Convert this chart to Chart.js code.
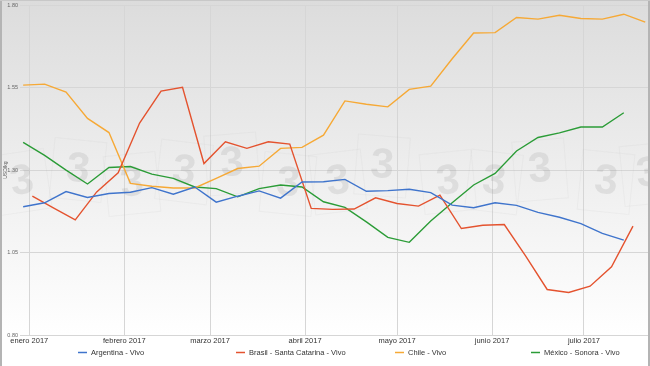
<!DOCTYPE html>
<html>
<head>
<meta charset="utf-8">
<script src="https://cdn.jsdelivr.net/npm/chart.js"></script>
<style>
html,body{margin:0;padding:0;background:#fff;}
#wrap{width:650px;height:366px;position:relative;}
</style>
</head>
<body>
<div id="wrap"><canvas id="c" width="650" height="366"></canvas></div>
<script>
// ---- data ----
const monthStarts = ["2017-01-01","2017-02-01","2017-03-01","2017-04-01","2017-05-01","2017-06-01","2017-07-01"];
const monthLabels = ["enero 2017","febrero 2017","marzo 2017","abril 2017","mayo 2017","junio 2017","julio 2017"];

const weeksMain = ["2016-12-30","2017-01-06","2017-01-13","2017-01-20","2017-01-27","2017-02-03","2017-02-10","2017-02-17","2017-02-24","2017-03-03","2017-03-10","2017-03-17","2017-03-24","2017-03-31","2017-04-07","2017-04-14","2017-04-21","2017-04-28","2017-05-05","2017-05-12","2017-05-19","2017-05-26","2017-06-02","2017-06-09","2017-06-16","2017-06-23","2017-06-30","2017-07-07","2017-07-14","2017-07-21"];
const weeksBrasil = ["2017-01-02","2017-01-09","2017-01-16","2017-01-23","2017-01-30","2017-02-06","2017-02-13","2017-02-20","2017-02-27","2017-03-06","2017-03-13","2017-03-20","2017-03-27","2017-04-03","2017-04-10","2017-04-17","2017-04-24","2017-05-01","2017-05-08","2017-05-15","2017-05-22","2017-05-29","2017-06-05","2017-06-12","2017-06-19","2017-06-26","2017-07-03","2017-07-10","2017-07-17"];

const argentina = [1.189,1.201,1.235,1.217,1.229,1.233,1.247,1.227,1.249,1.203,1.221,1.237,1.215,1.264,1.265,1.272,1.236,1.238,1.242,1.232,1.194,1.186,1.201,1.193,1.172,1.157,1.138,1.108,1.088];
const brasil = [1.221,1.185,1.149,1.234,1.292,1.443,1.540,1.551,1.320,1.386,1.366,1.386,1.379,1.184,1.181,1.182,1.216,1.199,1.191,1.224,1.123,1.133,1.135,1.039,0.938,0.929,0.948,1.007,1.130];
const chile = [1.558,1.561,1.537,1.457,1.414,1.260,1.251,1.246,1.246,1.275,1.305,1.312,1.366,1.369,1.406,1.510,1.500,1.492,1.545,1.555,1.638,1.716,1.717,1.763,1.758,1.770,1.760,1.758,1.773,1.749];
const mexico = [1.384,1.345,1.300,1.258,1.308,1.311,1.288,1.275,1.249,1.244,1.219,1.244,1.255,1.249,1.204,1.187,1.143,1.096,1.081,1.146,1.201,1.255,1.290,1.358,1.399,1.413,1.431,1.431,1.474];

const seriesNames = ["Argentina - Vivo","Brasil - Santa Catarina - Vivo","Chile - Vivo","México - Sonora - Vivo"];
const seriesColors = ["#3f74cc","#e4532f","#f6a936","#2b9c37"];
const yTitle = "USD/kg";
const watermarkText = "3";

// ---- helpers ----
const BASE = Date.UTC(2017,0,1);
function dayOf(s){const p=s.split("-").map(Number);return (Date.UTC(p[0],p[1]-1,p[2])-BASE)/86400000;}
function xy(dates, vals){return vals.map((v,i)=>({x:dayOf(dates[i]),y:v}));}
const monthDays = monthStarts.map(dayOf);

const bgPlugin = {
  id:'bg',
  beforeDraw(chart){
    const c=chart.ctx, a=chart.chartArea;
    c.save();
    c.fillStyle='#fff';c.fillRect(0,0,chart.width,chart.height);
    const g=c.createLinearGradient(0,0,0,a.bottom);
    g.addColorStop(0,'#dcdcdc');g.addColorStop(1,'#ffffff');
    c.fillStyle=g;c.fillRect(0,0,chart.width,a.bottom);
    c.restore();
  },
  beforeDatasetsDraw(chart){
    // faint watermark logos
    const c=chart.ctx;
    const spots=[[22,182,-0.15],[78,170,0.1],[132,184,-0.1],[184,172,0.12],[232,164,-0.08],[288,184,0.1],[338,182,-0.12],[382,166,0.08],[448,182,-0.1],[494,182,0.12],[540,170,-0.08],[606,182,0.1],[648,174,-0.1]];
    c.save();
    c.font='bold 42px "Liberation Sans", Arial, sans-serif';
    c.textAlign='center';c.textBaseline='middle';
    spots.forEach(([x,y,r])=>{
      c.save();c.translate(x,y);c.rotate(r);
      c.strokeStyle='rgba(150,150,150,0.07)';c.lineWidth=1;
      c.strokeRect(-26,-30,52,60);
      c.fillStyle='rgba(130,130,130,0.16)';
      c.fillText(watermarkText,0,0);
      c.restore();
    });
    c.restore();
  },
  afterDraw(chart){
    const c=chart.ctx;
    c.save();
    c.fillStyle='#b4b4b4';
    c.fillRect(0,0,2,chart.height);
    c.fillRect(chart.width-2,0,2,chart.height);
    c.fillStyle='#c8c8c8';
    c.fillRect(0,0,chart.width,1);
    // legend
    const cols=[0.12,0.363,0.608,0.817];
    c.font='7.5px "Liberation Sans", Arial, sans-serif';
    c.textBaseline='middle';
    chart.data.datasets.forEach((ds,i)=>{
      const x=Math.round(chart.width*cols[i]), y=352.5;
      c.strokeStyle=ds.borderColor;c.lineWidth=1.5;
      c.beginPath();c.moveTo(x,y);c.lineTo(x+9,y);c.stroke();
      c.fillStyle='#333';c.textAlign='left';
      c.fillText(ds.label,x+13,y);
    });
    c.restore();
  }
};

const datasets=[
  {label:seriesNames[0],data:xy(weeksMain,argentina),borderColor:seriesColors[0]},
  {label:seriesNames[1],data:xy(weeksBrasil,brasil),borderColor:seriesColors[1]},
  {label:seriesNames[2],data:xy(weeksMain,chile),borderColor:seriesColors[2]},
  {label:seriesNames[3],data:xy(weeksMain,mexico),borderColor:seriesColors[3]}
].map(d=>Object.assign(d,{borderWidth:1.4,pointRadius:0,fill:false,tension:0,backgroundColor:d.borderColor}));

new Chart(document.getElementById('c'),{
  type:'line',
  data:{datasets},
  options:{
    responsive:false,animation:false,devicePixelRatio:1,
    layout:{padding:{left:0,right:2,top:5,bottom:0}},
    plugins:{legend:{display:false},tooltip:{enabled:false}},
    scales:{
      x:{type:'linear',min:-3.03,max:201.9,
        afterBuildTicks:s=>{s.ticks=monthDays.map(v=>({value:v}));},
        afterFit:s=>{s.height=31;},
        ticks:{autoSkip:false,maxRotation:0,padding:1,color:'#333',
          font:{size:7.5,family:'"Liberation Sans", Arial, sans-serif'},
          callback:(v)=>{const i=monthDays.indexOf(v);return i>=0?monthLabels[i]:'';}},
        grid:{color:'#d6d6d6',drawTicks:false,lineWidth:1},
        border:{display:false}
      },
      y:{min:0.8,max:1.8,
        afterFit:s=>{s.width=20;},
        ticks:{stepSize:0.25,padding:2,color:'#666',
          font:{size:5.5,family:'"Liberation Sans", Arial, sans-serif'},
          callback:v=>Number(v).toFixed(2)},
        grid:{color:'#d6d6d6',drawTicks:false,lineWidth:1},
        border:{display:false},
        title:{display:true,text:yTitle,color:'#555',padding:{top:3,bottom:0},
          font:{size:5,family:'"Liberation Sans", Arial, sans-serif'}}
      }
    }
  },
  plugins:[bgPlugin]
});
</script>
</body>
</html>
